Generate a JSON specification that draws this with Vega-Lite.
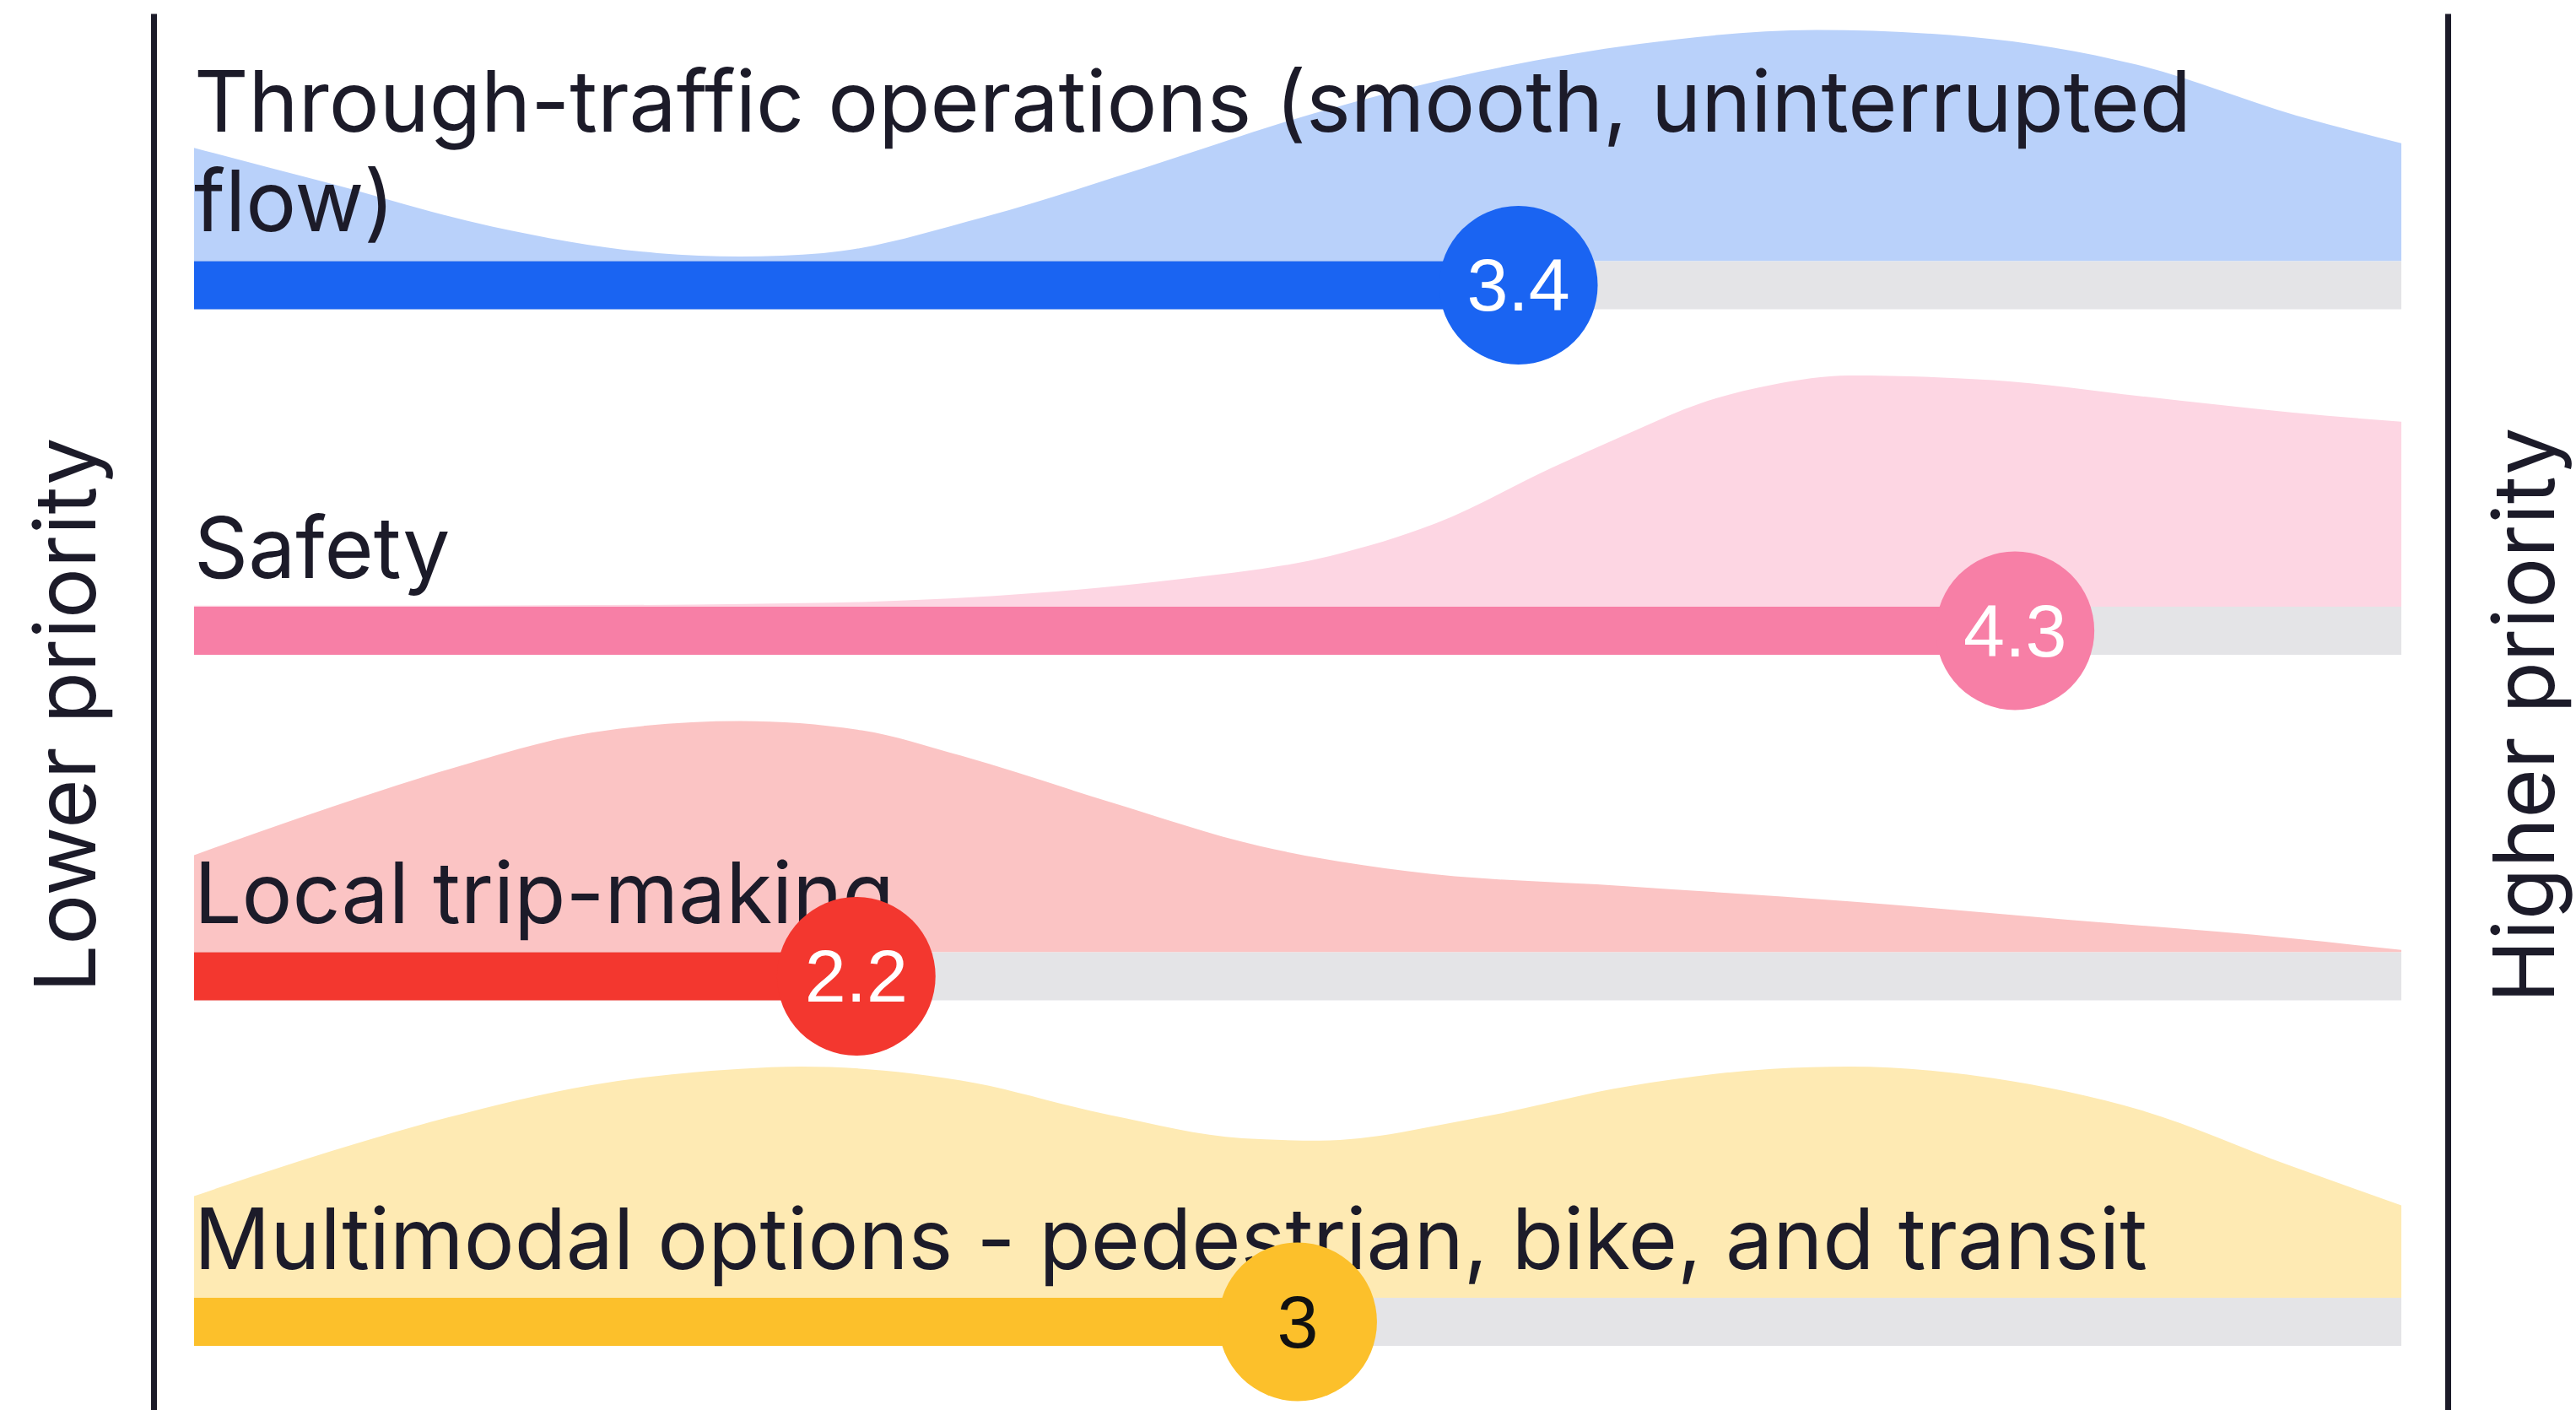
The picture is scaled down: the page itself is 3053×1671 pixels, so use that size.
{
  "$schema": "https://vega.github.io/schema/vega-lite/v6.json",
  "width": 2719,
  "height": 1655,
  "autosize": {"type": "none"},
  "padding": {"left": 182, "top": 16, "right": 152, "bottom": 0},
  "background": "white",
  "config": {"view": {"stroke": null}},
  "datasets": {
    "scores": [
      {"item": "Through", "label": "Through-traffic operations (smooth, uninterrupted\nflow)", "score": 3.4},
      {"item": "Safety", "label": "Safety", "score": 4.3},
      {"item": "Local", "label": "Local trip-making", "score": 2.2},
      {"item": "Multimodal", "label": "Multimodal options - pedestrian, bike, and transit", "score": 3}
    ],
    "density": [
      {"item": "Through", "x": 1.00, "d": 0.49},
      {"item": "Through", "x": 1.24, "d": 0.34},
      {"item": "Through", "x": 1.54, "d": 0.15},
      {"item": "Through", "x": 1.84, "d": 0.035},
      {"item": "Through", "x": 1.99, "d": 0.02},
      {"item": "Through", "x": 2.14, "d": 0.035},
      {"item": "Through", "x": 2.43, "d": 0.19},
      {"item": "Through", "x": 2.73, "d": 0.41},
      {"item": "Through", "x": 3.03, "d": 0.64},
      {"item": "Through", "x": 3.33, "d": 0.82},
      {"item": "Through", "x": 3.62, "d": 0.94},
      {"item": "Through", "x": 3.94, "d": 1.00},
      {"item": "Through", "x": 4.22, "d": 0.97},
      {"item": "Through", "x": 4.52, "d": 0.85},
      {"item": "Through", "x": 4.81, "d": 0.63},
      {"item": "Through", "x": 5.00, "d": 0.51},
      {"item": "Safety", "x": 1.00, "d": 0.005},
      {"item": "Safety", "x": 1.50, "d": 0.005},
      {"item": "Safety", "x": 2.00, "d": 0.012},
      {"item": "Safety", "x": 2.21, "d": 0.02},
      {"item": "Safety", "x": 2.53, "d": 0.06},
      {"item": "Safety", "x": 2.79, "d": 0.12},
      {"item": "Safety", "x": 3.06, "d": 0.22},
      {"item": "Safety", "x": 3.25, "d": 0.36},
      {"item": "Safety", "x": 3.46, "d": 0.60},
      {"item": "Safety", "x": 3.60, "d": 0.75},
      {"item": "Safety", "x": 3.73, "d": 0.88},
      {"item": "Safety", "x": 3.86, "d": 0.96},
      {"item": "Safety", "x": 4.00, "d": 1.00},
      {"item": "Safety", "x": 4.26, "d": 0.98},
      {"item": "Safety", "x": 4.53, "d": 0.91},
      {"item": "Safety", "x": 4.80, "d": 0.84},
      {"item": "Safety", "x": 5.00, "d": 0.80},
      {"item": "Local", "x": 1.00, "d": 0.42},
      {"item": "Local", "x": 1.19, "d": 0.58},
      {"item": "Local", "x": 1.46, "d": 0.79},
      {"item": "Local", "x": 1.72, "d": 0.95},
      {"item": "Local", "x": 1.99, "d": 1.00},
      {"item": "Local", "x": 2.21, "d": 0.96},
      {"item": "Local", "x": 2.39, "d": 0.85},
      {"item": "Local", "x": 2.66, "d": 0.65},
      {"item": "Local", "x": 2.93, "d": 0.46},
      {"item": "Local", "x": 3.20, "d": 0.35},
      {"item": "Local", "x": 3.60, "d": 0.285},
      {"item": "Local", "x": 4.00, "d": 0.22},
      {"item": "Local", "x": 4.40, "d": 0.14},
      {"item": "Local", "x": 4.80, "d": 0.06},
      {"item": "Local", "x": 5.00, "d": 0.01},
      {"item": "Multimodal", "x": 1.00, "d": 0.44},
      {"item": "Multimodal", "x": 1.19, "d": 0.59},
      {"item": "Multimodal", "x": 1.46, "d": 0.78},
      {"item": "Multimodal", "x": 1.72, "d": 0.92},
      {"item": "Multimodal", "x": 1.99, "d": 0.99},
      {"item": "Multimodal", "x": 2.10, "d": 1.00},
      {"item": "Multimodal", "x": 2.39, "d": 0.94},
      {"item": "Multimodal", "x": 2.66, "d": 0.79},
      {"item": "Multimodal", "x": 2.90, "d": 0.69},
      {"item": "Multimodal", "x": 3.04, "d": 0.68},
      {"item": "Multimodal", "x": 3.33, "d": 0.78},
      {"item": "Multimodal", "x": 3.60, "d": 0.915},
      {"item": "Multimodal", "x": 3.86, "d": 0.99},
      {"item": "Multimodal", "x": 4.00, "d": 1.00},
      {"item": "Multimodal", "x": 4.26, "d": 0.95},
      {"item": "Multimodal", "x": 4.53, "d": 0.81},
      {"item": "Multimodal", "x": 4.80, "d": 0.57},
      {"item": "Multimodal", "x": 5.00, "d": 0.40}
    ]
  },
  "layer": [
    {
      "layer": [
        {
          "data": {"name": "density"},
          "transform": [{"filter": {"field": "item", "equal": "Through"}}],
          "mark": {"type": "area", "interpolate": "monotone", "color": "#b9d1fa", "opacity": 1},
          "encoding": {
            "x": {"field": "x", "type": "quantitative", "scale": {"domain": [0.92661, 5.0841], "nice": false, "zero": false}, "axis": null},
            "y": {"field": "d", "type": "quantitative", "scale": {"domain": [-4.96894, 1.07117], "nice": false, "zero": false},
              "axis": {"orient": "left", "title": "Lower priority", "ticks": false, "labels": false, "grid": false, "domain": true, "domainColor": "#1c1b29", "domainWidth": 7, "titleFont": "Inter", "titleFontSize": 100, "titleFontWeight": "normal", "titleColor": "#1c1b29", "titleAngle": 270, "titleX": -70, "titleY": 831, "titleAlign": "center", "titleBaseline": "alphabetic"}}
          }
        },
        {
          "data": {"name": "scores"},
          "transform": [{"filter": {"field": "item", "equal": "Through"}}],
          "mark": {"type": "text", "align": "left", "baseline": "alphabetic", "font": "Inter", "fontSize": 100, "color": "#1c1b29", "lineBreak": "\n", "lineHeight": 118},
          "encoding": {
            "x": {"datum": 1, "type": "quantitative", "axis": null},
            "y": {"datum": 0.56, "type": "quantitative"},
            "text": {"field": "label", "type": "nominal"}
          }
        },
        {
          "data": {"name": "scores"},
          "transform": [{"filter": {"field": "item", "equal": "Through"}}],
          "mark": {"type": "rule", "strokeWidth": 57, "strokeCap": "butt", "color": "#e4e4e7"},
          "encoding": {
            "x": {"datum": 5, "type": "quantitative", "axis": null},
            "x2": {"datum": 1},
            "y": {"datum": -0.104, "type": "quantitative"}
          }
        },
        {
          "data": {"name": "scores"},
          "transform": [{"filter": {"field": "item", "equal": "Through"}}],
          "mark": {"type": "rule", "strokeWidth": 57, "strokeCap": "butt", "color": "#1a64f2"},
          "encoding": {
            "x": {"field": "score", "type": "quantitative", "axis": null},
            "x2": {"datum": 1},
            "y": {"datum": -0.104, "type": "quantitative"}
          }
        },
        {
          "data": {"name": "scores"},
          "transform": [{"filter": {"field": "item", "equal": "Through"}}],
          "mark": {"type": "circle", "size": 35300, "opacity": 1, "color": "#1a64f2"},
          "encoding": {
            "x": {"field": "score", "type": "quantitative", "axis": null},
            "y": {"datum": -0.104, "type": "quantitative"}
          }
        },
        {
          "data": {"name": "scores"},
          "transform": [{"filter": {"field": "item", "equal": "Through"}}],
          "mark": {"type": "text", "align": "center", "baseline": "middle", "font": "Liberation Sans", "fontSize": 88, "color": "#ffffff", "dy": 4},
          "encoding": {
            "x": {"field": "score", "type": "quantitative", "axis": null},
            "y": {"datum": -0.104, "type": "quantitative"},
            "text": {"field": "score", "type": "nominal"}
          }
        }
      ]
    },
    {
      "layer": [
        {
          "data": {"name": "density"},
          "transform": [{"filter": {"field": "item", "equal": "Safety"}}],
          "mark": {"type": "area", "interpolate": "monotone", "color": "#fdd6e3", "opacity": 1},
          "encoding": {
            "x": {"field": "x", "type": "quantitative", "axis": null},
            "y": {"field": "d", "type": "quantitative", "scale": {"domain": [-3.47441, 2.56569], "nice": false, "zero": false},
              "axis": {"orient": "right", "title": "Higher priority", "ticks": false, "labels": false, "grid": false, "domain": true, "domainColor": "#1c1b29", "domainWidth": 7, "titleFont": "Inter", "titleFontSize": 100, "titleFontWeight": "normal", "titleColor": "#1c1b29", "titleAngle": 270, "titleX": 125, "titleY": 831, "titleAlign": "center", "titleBaseline": "alphabetic"}}
          }
        },
        {
          "data": {"name": "scores"},
          "transform": [{"filter": {"field": "item", "equal": "Safety"}}],
          "mark": {"type": "text", "align": "left", "baseline": "alphabetic", "font": "Inter", "fontSize": 100, "color": "#1c1b29"},
          "encoding": {
            "x": {"datum": 1, "type": "quantitative", "axis": null},
            "y": {"datum": 0.125, "type": "quantitative"},
            "text": {"field": "label", "type": "nominal"}
          }
        },
        {
          "data": {"name": "scores"},
          "transform": [{"filter": {"field": "item", "equal": "Safety"}}],
          "mark": {"type": "rule", "strokeWidth": 57, "strokeCap": "butt", "color": "#e4e4e7"},
          "encoding": {
            "x": {"datum": 5, "type": "quantitative", "axis": null},
            "x2": {"datum": 1},
            "y": {"datum": -0.104, "type": "quantitative"}
          }
        },
        {
          "data": {"name": "scores"},
          "transform": [{"filter": {"field": "item", "equal": "Safety"}}],
          "mark": {"type": "rule", "strokeWidth": 57, "strokeCap": "butt", "color": "#f77fa6"},
          "encoding": {
            "x": {"field": "score", "type": "quantitative", "axis": null},
            "x2": {"datum": 1},
            "y": {"datum": -0.104, "type": "quantitative"}
          }
        },
        {
          "data": {"name": "scores"},
          "transform": [{"filter": {"field": "item", "equal": "Safety"}}],
          "mark": {"type": "circle", "size": 35300, "opacity": 1, "color": "#f77fa6"},
          "encoding": {
            "x": {"field": "score", "type": "quantitative", "axis": null},
            "y": {"datum": -0.104, "type": "quantitative"}
          }
        },
        {
          "data": {"name": "scores"},
          "transform": [{"filter": {"field": "item", "equal": "Safety"}}],
          "mark": {"type": "text", "align": "center", "baseline": "middle", "font": "Liberation Sans", "fontSize": 88, "color": "#ffffff", "dy": 4},
          "encoding": {
            "x": {"field": "score", "type": "quantitative", "axis": null},
            "y": {"datum": -0.104, "type": "quantitative"},
            "text": {"field": "score", "type": "nominal"}
          }
        }
      ]
    },
    {
      "layer": [
        {
          "data": {"name": "density"},
          "transform": [{"filter": {"field": "item", "equal": "Local"}}],
          "mark": {"type": "area", "interpolate": "monotone", "color": "#fbc4c4", "opacity": 1},
          "encoding": {
            "x": {"field": "x", "type": "quantitative", "axis": null},
            "y": {"field": "d", "type": "quantitative", "scale": {"domain": [-1.97988, 4.06022], "nice": false, "zero": false}, "axis": null}
          }
        },
        {
          "data": {"name": "scores"},
          "transform": [{"filter": {"field": "item", "equal": "Local"}}],
          "mark": {"type": "text", "align": "left", "baseline": "alphabetic", "font": "Inter", "fontSize": 100, "color": "#1c1b29"},
          "encoding": {
            "x": {"datum": 1, "type": "quantitative", "axis": null},
            "y": {"datum": 0.125, "type": "quantitative", "axis": null},
            "text": {"field": "label", "type": "nominal"}
          }
        },
        {
          "data": {"name": "scores"},
          "transform": [{"filter": {"field": "item", "equal": "Local"}}],
          "mark": {"type": "rule", "strokeWidth": 57, "strokeCap": "butt", "color": "#e4e4e7"},
          "encoding": {
            "x": {"datum": 5, "type": "quantitative", "axis": null},
            "x2": {"datum": 1},
            "y": {"datum": -0.104, "type": "quantitative", "axis": null}
          }
        },
        {
          "data": {"name": "scores"},
          "transform": [{"filter": {"field": "item", "equal": "Local"}}],
          "mark": {"type": "rule", "strokeWidth": 57, "strokeCap": "butt", "color": "#f3372f"},
          "encoding": {
            "x": {"field": "score", "type": "quantitative", "axis": null},
            "x2": {"datum": 1},
            "y": {"datum": -0.104, "type": "quantitative", "axis": null}
          }
        },
        {
          "data": {"name": "scores"},
          "transform": [{"filter": {"field": "item", "equal": "Local"}}],
          "mark": {"type": "circle", "size": 35300, "opacity": 1, "color": "#f3372f"},
          "encoding": {
            "x": {"field": "score", "type": "quantitative", "axis": null},
            "y": {"datum": -0.104, "type": "quantitative", "axis": null}
          }
        },
        {
          "data": {"name": "scores"},
          "transform": [{"filter": {"field": "item", "equal": "Local"}}],
          "mark": {"type": "text", "align": "center", "baseline": "middle", "font": "Liberation Sans", "fontSize": 88, "color": "#ffffff", "dy": 4},
          "encoding": {
            "x": {"field": "score", "type": "quantitative", "axis": null},
            "y": {"datum": -0.104, "type": "quantitative", "axis": null},
            "text": {"field": "score", "type": "nominal"}
          }
        }
      ]
    },
    {
      "layer": [
        {
          "data": {"name": "density"},
          "transform": [{"filter": {"field": "item", "equal": "Multimodal"}}],
          "mark": {"type": "area", "interpolate": "monotone", "color": "#feeab3", "opacity": 1},
          "encoding": {
            "x": {"field": "x", "type": "quantitative", "axis": null},
            "y": {"field": "d", "type": "quantitative", "scale": {"domain": [-0.48536, 5.55474], "nice": false, "zero": false}, "axis": null}
          }
        },
        {
          "data": {"name": "scores"},
          "transform": [{"filter": {"field": "item", "equal": "Multimodal"}}],
          "mark": {"type": "text", "align": "left", "baseline": "alphabetic", "font": "Inter", "fontSize": 100, "color": "#1c1b29"},
          "encoding": {
            "x": {"datum": 1, "type": "quantitative", "axis": null},
            "y": {"datum": 0.125, "type": "quantitative", "axis": null},
            "text": {"field": "label", "type": "nominal"}
          }
        },
        {
          "data": {"name": "scores"},
          "transform": [{"filter": {"field": "item", "equal": "Multimodal"}}],
          "mark": {"type": "rule", "strokeWidth": 57, "strokeCap": "butt", "color": "#e4e4e7"},
          "encoding": {
            "x": {"datum": 5, "type": "quantitative", "axis": null},
            "x2": {"datum": 1},
            "y": {"datum": -0.104, "type": "quantitative", "axis": null}
          }
        },
        {
          "data": {"name": "scores"},
          "transform": [{"filter": {"field": "item", "equal": "Multimodal"}}],
          "mark": {"type": "rule", "strokeWidth": 57, "strokeCap": "butt", "color": "#fcc02b"},
          "encoding": {
            "x": {"field": "score", "type": "quantitative", "axis": null},
            "x2": {"datum": 1},
            "y": {"datum": -0.104, "type": "quantitative", "axis": null}
          }
        },
        {
          "data": {"name": "scores"},
          "transform": [{"filter": {"field": "item", "equal": "Multimodal"}}],
          "mark": {"type": "circle", "size": 35300, "opacity": 1, "color": "#fcc02b"},
          "encoding": {
            "x": {"field": "score", "type": "quantitative", "axis": null},
            "y": {"datum": -0.104, "type": "quantitative", "axis": null}
          }
        },
        {
          "data": {"name": "scores"},
          "transform": [{"filter": {"field": "item", "equal": "Multimodal"}}],
          "mark": {"type": "text", "align": "center", "baseline": "middle", "font": "Liberation Sans", "fontSize": 88, "color": "#111111", "dy": 4},
          "encoding": {
            "x": {"field": "score", "type": "quantitative", "axis": null},
            "y": {"datum": -0.104, "type": "quantitative", "axis": null},
            "text": {"field": "score", "type": "nominal"}
          }
        }
      ]
    }
  ],
  "resolve": {"scale": {"y": "independent"}, "axis": {"y": "independent"}}
}
